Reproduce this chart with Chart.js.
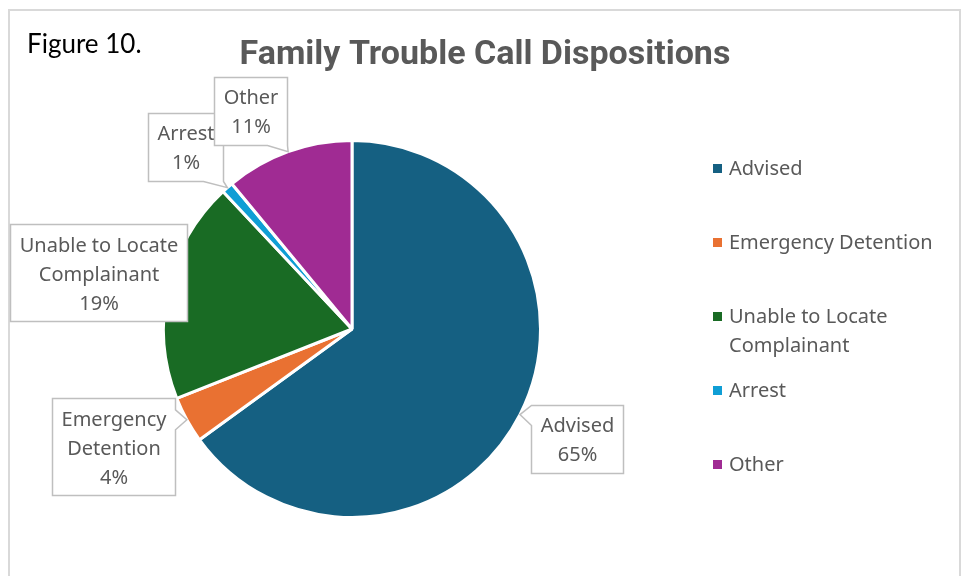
<!DOCTYPE html>
<html>
<head>
<meta charset="utf-8">
<script src="https://cdn.jsdelivr.net/npm/chart.js@4.4.1/dist/chart.umd.min.js"></script>
<style>
  html, body { margin: 0; padding: 0; background: #ffffff; }
  canvas { display: block; }
</style>
</head>
<body>
<canvas id="chart" width="966" height="576"></canvas>
<script>
// Disposition categories and their share of family trouble calls (%)
const categories = ['Advised', 'Emergency Detention', 'Unable to Locate Complainant', 'Arrest', 'Other'];
const shares = [65, 4, 19, 1, 11];
const sliceColors = ['#156082', '#E97132', '#196B24', '#0F9ED5', '#A02B93'];
const chartTitle = 'Family Trouble Call Dispositions';
const figureCaption = 'Figure 10.';

// Callout box centres, as offsets from where each slice's mid-line meets the rim
const calloutOffsets = [[57, 24], [-73, 27], [-70, -15], [-42, -41], [-38, -41]];

const TEXT_GREY = '#595959';
const LABEL_FONT = '20px "Noto Sans", "Open Sans", sans-serif';

function wrapText(ctx, text, maxWidth) {
  const words = text.split(' ');
  const lines = [];
  let line = '';
  for (const w of words) {
    const test = line ? line + ' ' + w : w;
    if (line && ctx.measureText(test).width > maxWidth) {
      lines.push(line);
      line = w;
    } else {
      line = test;
    }
  }
  if (line) lines.push(line);
  return lines;
}

function drawCallout(ctx, lines, cx, cy, tip) {
  const lh = 29, padX = 9, padY = 5;
  const textW = Math.max(...lines.map(l => ctx.measureText(l).width));
  const w = Math.round(textW + 2 * padX);
  const h = lines.length * lh + 2 * padY;
  const L = Math.round(cx - w / 2) + 0.5, T = Math.round(cy - h / 2) + 0.5;
  const R = L + w, B = T + h;

  const inside = tip.x >= L && tip.x <= R && tip.y >= T && tip.y <= B;
  const dxo = tip.x < L ? L - tip.x : (tip.x > R ? tip.x - R : 0);
  const dyo = tip.y < T ? T - tip.y : (tip.y > B ? tip.y - B : 0);
  let edge = null;
  if (!inside) {
    if (dxo >= dyo) edge = tip.x < L ? 'left' : 'right';
    else edge = tip.y < T ? 'top' : 'bottom';
  }
  const baseW = 20;
  const clamp = (v, lo, hi) => Math.max(lo, Math.min(hi, v));

  ctx.beginPath();
  ctx.moveTo(L, T);
  if (edge === 'top') {
    const a = clamp(tip.x - baseW / 2, L, R - baseW);
    ctx.lineTo(a, T); ctx.lineTo(tip.x, tip.y); ctx.lineTo(a + baseW, T);
  }
  ctx.lineTo(R, T);
  if (edge === 'right') {
    const a = clamp(tip.y - baseW / 2, T, B - baseW);
    ctx.lineTo(R, a); ctx.lineTo(tip.x, tip.y); ctx.lineTo(R, a + baseW);
  }
  ctx.lineTo(R, B);
  if (edge === 'bottom') {
    const a = clamp(tip.x - baseW / 2, L, R - baseW);
    ctx.lineTo(a + baseW, B); ctx.lineTo(tip.x, tip.y); ctx.lineTo(a, B);
  }
  ctx.lineTo(L, B);
  if (edge === 'left') {
    const a = clamp(tip.y - baseW / 2, T, B - baseW);
    ctx.lineTo(L, a + baseW); ctx.lineTo(tip.x, tip.y); ctx.lineTo(L, a);
  }
  ctx.closePath();
  ctx.fillStyle = '#ffffff';
  ctx.fill();
  ctx.lineWidth = 1.5;
  ctx.strokeStyle = '#bfbfbf';
  ctx.stroke();

  ctx.fillStyle = TEXT_GREY;
  ctx.textAlign = 'center';
  ctx.textBaseline = 'middle';
  const firstY = cy - (lines.length - 1) * lh / 2 + 2;
  lines.forEach((l, i) => ctx.fillText(l, L + w / 2, firstY + i * lh));
}

// Frame, caption, title and the side legend
const decorPlugin = {
  id: 'decor',
  beforeDraw(chart) {
    const ctx = chart.ctx;
    ctx.save();
    ctx.fillStyle = '#ffffff';
    ctx.fillRect(0, 0, chart.width, chart.height);
    ctx.strokeStyle = '#d9d9d9';
    ctx.lineWidth = 2;
    ctx.strokeRect(9, 10, 951, 620);

    ctx.fillStyle = '#000000';
    ctx.font = '26px Lato, "Open Sans", sans-serif';
    ctx.textAlign = 'left';
    ctx.textBaseline = 'alphabetic';
    ctx.fillText(figureCaption, 27, 53);

    ctx.fillStyle = TEXT_GREY;
    ctx.font = 'bold 34px Roboto, sans-serif';
    ctx.textAlign = 'center';
    ctx.textBaseline = 'middle';
    ctx.fillText(chartTitle, 485, 55);

    // legend
    ctx.font = LABEL_FONT;
    ctx.textAlign = 'left';
    categories.forEach((name, i) => {
      const y = 168 + i * 74;
      ctx.fillStyle = sliceColors[i];
      ctx.fillRect(713, y - 4, 9, 9);
      ctx.fillStyle = TEXT_GREY;
      const lines = wrapText(ctx, name, 215);
      lines.forEach((l, j) => ctx.fillText(l, 729, y + 1 + j * 29));
    });
    ctx.restore();
  },
  afterDatasetsDraw(chart) {
    const ctx = chart.ctx;
    const meta = chart.getDatasetMeta(0);
    ctx.save();
    ctx.font = LABEL_FONT;
    meta.data.forEach((arc, i) => {
      const mid = (arc.startAngle + arc.endAngle) / 2;
      const tip = { x: arc.x + Math.cos(mid) * arc.outerRadius, y: arc.y + Math.sin(mid) * arc.outerRadius };
      const lines = wrapText(ctx, categories[i], 175);
      lines.push(shares[i] + '%');
      const [dx, dy] = calloutOffsets[i];
      drawCallout(ctx, lines, tip.x + dx, tip.y + dy, tip);
    });
    ctx.restore();
  }
};

new Chart(document.getElementById('chart'), {
  type: 'pie',
  data: {
    labels: categories,
    datasets: [{
      data: shares,
      backgroundColor: sliceColors,
      borderColor: '#ffffff',
      borderWidth: 3
    }]
  },
  options: {
    responsive: false,
    animation: false,
    events: [],
    layout: { padding: { left: 162, right: 424, top: 139, bottom: 57 } },
    plugins: {
      legend: { display: false },
      title: { display: false },
      tooltip: { enabled: false }
    }
  },
  plugins: [decorPlugin]
});
</script>
</body>
</html>
